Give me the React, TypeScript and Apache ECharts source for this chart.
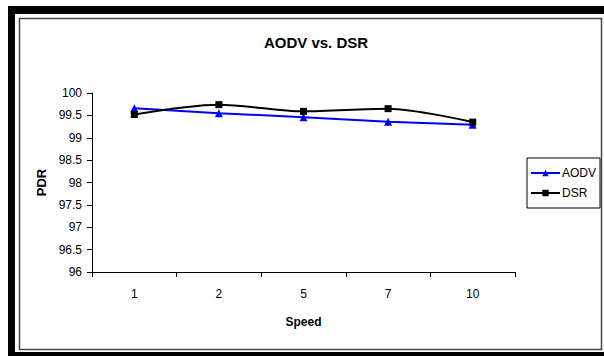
import React, { useEffect, useRef } from "react";
import * as echarts from "echarts";

const speeds = ["1", "2", "5", "7", "10"];
const aodv = [99.66, 99.55, 99.46, 99.36, 99.29];
const dsr = [99.52, 99.74, 99.59, 99.65, 99.35];

const FONT = "Liberation Sans, Arial, sans-serif";

export default function App() {
  const ref = useRef<HTMLDivElement>(null);

  useEffect(() => {
    const chart = echarts.init(ref.current!, undefined, { renderer: "svg" });
    chart.setOption({
      animation: false,
      backgroundColor: "#fff",
      graphic: [
        { type: "rect", z: -10, shape: { x: 8, y: 6, width: 596, height: 350 }, style: { fill: "#000" } },
        { type: "rect", z: -9, shape: { x: 15, y: 14, width: 589, height: 338 }, style: { fill: "#fff" } },
        {
          type: "rect",
          z: -8,
          shape: { x: 19.5, y: 18.5, width: 582, height: 331 },
          style: { fill: "none", stroke: "#444", lineWidth: 1.5 },
        },
      ],
      title: {
        text: "AODV vs. DSR",
        left: 311,
        textAlign: "center",
        top: 30,
        textStyle: { fontFamily: FONT, fontSize: 15, fontWeight: "bold", color: "#000" },
      },
      legend: {
        orient: "vertical",
        left: 527,
        top: 158,
        width: 72,
        padding: [9, 4, 9, 3],
        itemGap: 8,
        itemWidth: 29,
        itemHeight: 8,
        borderColor: "#000",
        borderWidth: 1,
        textStyle: { fontFamily: FONT, fontSize: 12, color: "#000", padding: [0, 0, 0, -3] },
        data: ["AODV", "DSR"],
      },
      grid: { left: 92, right: 89, top: 93, bottom: 84 },
      xAxis: {
        type: "category",
        data: speeds,
        boundaryGap: true,
        name: "Speed",
        nameLocation: "middle",
        nameGap: 44,
        nameTextStyle: { fontFamily: FONT, fontSize: 12, fontWeight: "bold", color: "#000" },
        axisLine: { lineStyle: { color: "#000", width: 1 } },
        axisTick: { show: true, length: 5, lineStyle: { color: "#000" } },
        axisLabel: { fontFamily: FONT, fontSize: 12, color: "#000", margin: 16 },
        splitLine: { show: false },
      },
      yAxis: {
        type: "value",
        min: 96,
        max: 100,
        interval: 0.5,
        name: "PDR",
        nameLocation: "middle",
        nameGap: 43,
        nameTextStyle: { fontFamily: FONT, fontSize: 13, fontWeight: "bold", color: "#000" },
        axisLine: { show: true, lineStyle: { color: "#000", width: 1 } },
        axisTick: { show: true, length: 5, lineStyle: { color: "#000" } },
        axisLabel: { fontFamily: FONT, fontSize: 12, color: "#000", margin: 10 },
        splitLine: { show: false },
      },
      series: [
        {
          name: "AODV",
          type: "line",
          data: aodv,
          symbol: "triangle",
          symbolSize: 8,
          itemStyle: { color: "#0000ff" },
          lineStyle: { color: "#0000ff", width: 2 },
        },
        {
          name: "DSR",
          type: "line",
          data: dsr,
          smooth: 0.3,
          symbol: "rect",
          symbolSize: 7,
          itemStyle: { color: "#000" },
          lineStyle: { color: "#000", width: 2 },
        },
      ],
    });
    return () => chart.dispose();
  }, []);

  return (
    <div
      ref={ref}
      style={{ position: "fixed", left: 0, top: 0, width: 604, height: 356 }}
    />
  );
}
